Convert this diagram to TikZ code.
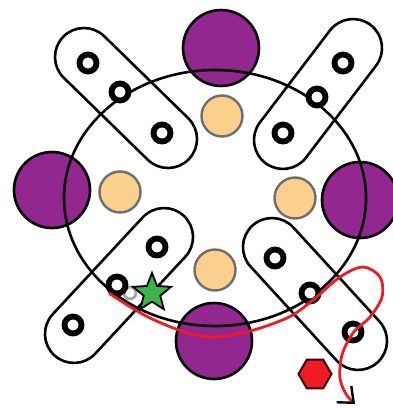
\documentclass[tikz,border=0pt]{standalone}
\usetikzlibrary{shapes.geometric,arrows.meta}
\definecolor{purp}{RGB}{146,39,143}
\definecolor{peach}{RGB}{251,208,141}
\definecolor{grn}{RGB}{60,180,74}
\definecolor{redc}{RGB}{237,28,36}
\definecolor{rimgray}{RGB}{110,110,110}
\begin{document}
\begin{tikzpicture}[x=1pt,y=-1pt,
  bigdisc/.style={circle, draw=black, line width=2.6pt, fill=purp, minimum size=76pt, inner sep=0pt},
  smalldisc/.style={circle, draw=rimgray, line width=2.4pt, fill=peach, minimum size=41pt, inner sep=0pt},
  pill/.style={rectangle, draw=black, line width=2.6pt, rounded corners=29pt, minimum height=58pt, inner sep=0pt},
  ring/.style={circle, draw=black, line width=5.8pt, fill=white, minimum size=17pt, inner sep=0pt},
  ghostring/.style={circle, draw=gray!70, line width=2.8pt, fill=white, minimum size=12pt, inner sep=0pt},
  redpath/.style={draw=redc, line width=2.8pt},
]
\useasboundingbox (0,0) rectangle (393,408);

% purple discs
\node[bigdisc] (pt) at (221,48) {};
\node[bigdisc] (pl) at (52,190) {};
\node[bigdisc] (pr) at (360,200) {};
\node[bigdisc] (pb) at (214,341) {};

% big ellipse
\node[ellipse, draw=black, line width=2.6pt, minimum width=302pt, minimum height=256pt, inner sep=0pt] (orbit) at (215,198) {};

% peach discs
\node[smalldisc] (st) at (222,116) {};
\node[smalldisc] (sl) at (120,192) {};
\node[smalldisc] (sr) at (295,198) {};
\node[smalldisc] (sb) at (215,270) {};

% pills
\node[pill, minimum width=175.4pt, rotate=-44.3] (ptl) at (126,98) {};
\node[pill, minimum width=173.6pt, rotate=52.7] (ptr) at (318,94) {};
\node[pill, minimum width=190.3pt, rotate=47.1] (pbl) at (119,285.5) {};
\node[pill, minimum width=185.4pt, rotate=-47.5] (pbr) at (315,294) {};

% rings
\node[ring] (tl1) at (88,63) {};
\node[ring] (tl2) at (120,92) {};
\node[ring] (tl3) at (162,133) {};
\node[ring] (tr1) at (343,63) {};
\node[ring] (tr2) at (317,97) {};
\node[ring] (tr3) at (283,133) {};
\node[ring] (bl1) at (157,247) {};
\node[ghostring] (bl0) at (130,293) {};
\node[ring] (bl2) at (117,285) {};
\node[ring] (bl3) at (73,325) {};
\node[ring] (br1) at (275,258) {};
\node[ring] (br2) at (310,293) {};
\node[ring] (br3) at (353,332) {};

% red trajectory
\coordinate (tipend) at (355,404);
\draw[redpath, -{Straight Barb[color=black, length=13pt, width=22pt, line width=2.4pt]}]
  plot[smooth, tension=0.55] coordinates {(bl2.225) (150,318) (200,336) (242,333) (287,318) (313,300) (340,277) (363,267) (380,277) (382,297) (370,317) (353,333) (342,355) (340,378) (346,394) (tipend)};

% star and hexagon
\node[star, star points=5, star point ratio=2.3, fill=grn, draw=black, line width=1.8pt, minimum size=40pt, inner sep=0pt] (starmark) at (152,293) {};
\node[regular polygon, regular polygon sides=6, fill=redc, draw=black!75!red, line width=2pt, minimum size=33pt, inner sep=0pt] (hexmark) at (315,374) {};
\end{tikzpicture}
\end{document}
